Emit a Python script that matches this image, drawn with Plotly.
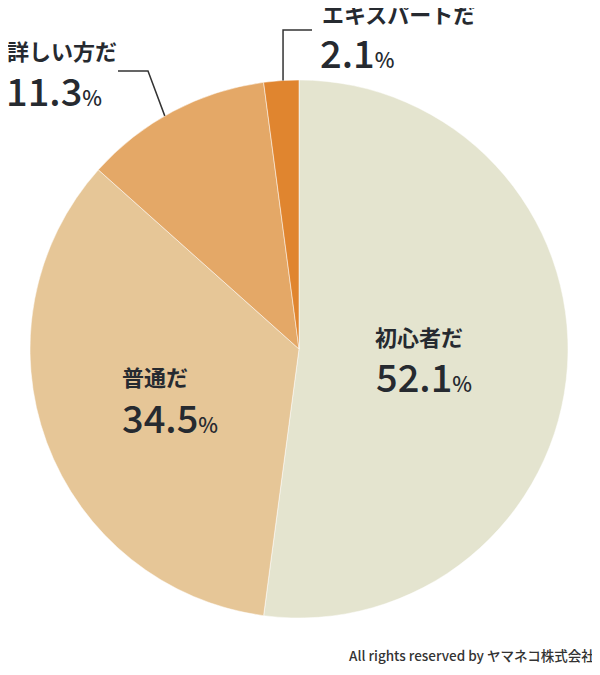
import math
import plotly.graph_objects as go

categories = ["初心者だ", "普通だ", "詳しい方だ", "エキスパートだ"]
values = [52.1, 34.5, 11.3, 2.1]
colors = ["#e4e4cf", "#e6c697", "#e4a867", "#e0852f"]

# page body has an 8px margin; work in reference pixel coords and shift
OFF = 8
W, H = 600 - OFF, 675 - OFF
FONT = "Noto Sans CJK JP"
TXT = "#262a30"

def px(x):
    return (x - OFF) / W

def py(y):
    return 1 - (y - OFF) / H

cx, cy, r = 299, 349, 269

fig = go.Figure(go.Pie(
    labels=categories, values=values, sort=False, direction="clockwise",
    rotation=0, textinfo="none", hoverinfo="label+percent",
    marker=dict(colors=colors, line=dict(color="#ffffff", width=0.5)),
    domain=dict(x=[px(cx - r), px(cx + r)], y=[py(cy + r), py(cy - r)]),
    showlegend=False,
))

def pct(v, big, small):
    return (f"<span style='font-size:{big}px'>{v}</span>"
            f"<span style='font-size:{small}px'>%</span>")

# (label x, label y, value x, value y)
label_pos = [
    (373, 336, 374, 375),
    (120, 376, 120, 416),
    (5, 50, 4, 89),
    (320, 13, 318, 52),
]

ann = []
for cat, val, (lx, ly, vx, vy) in zip(categories, values, label_pos):
    ann.append(dict(x=px(lx), y=py(ly), xref="paper", yref="paper", text=cat,
                    showarrow=False, xanchor="left", yanchor="middle",
                    font=dict(family=FONT, size=22, color=TXT, weight=700)))
    ann.append(dict(x=px(vx), y=py(vy), xref="paper", yref="paper",
                    text=pct(val, 38, 21), showarrow=False, xanchor="left", yanchor="middle",
                    font=dict(family=FONT, size=38, color=TXT, weight=500)))

ann.append(dict(x=px(597), y=py(655), xref="paper", yref="paper",
                text="All rights reserved by ヤマネコ株式会社", showarrow=False,
                xanchor="right", yanchor="middle",
                font=dict(family=FONT, size=13.5, color="#333333", weight=500)))

total = sum(values)
def edge_point(idx, frac):
    start = sum(values[:idx]) / total
    a = (start + values[idx] / total * frac) * 2 * math.pi
    return cx + r * math.sin(a), cy - r * math.cos(a)

ex, ey = edge_point(2, 0.45)
ex2, ey2 = edge_point(3, 0.55)
shapes = [
    dict(type="path", xref="paper", yref="paper",
         path=f"M {px(118)} {py(71)} L {px(148)} {py(71)} L {px(ex)} {py(ey)}",
         line=dict(color="#333333", width=1.5)),
    dict(type="path", xref="paper", yref="paper",
         path=f"M {px(ex2)} {py(ey2)} L {px(ex2)} {py(30)} L {px(312)} {py(30)}",
         line=dict(color="#333333", width=1.5)),
]

fig.update_layout(width=W, height=H, margin=dict(l=0, r=0, t=0, b=0),
                  paper_bgcolor="#ffffff", plot_bgcolor="#ffffff",
                  annotations=ann, shapes=shapes)
fig.write_html("out.html")
